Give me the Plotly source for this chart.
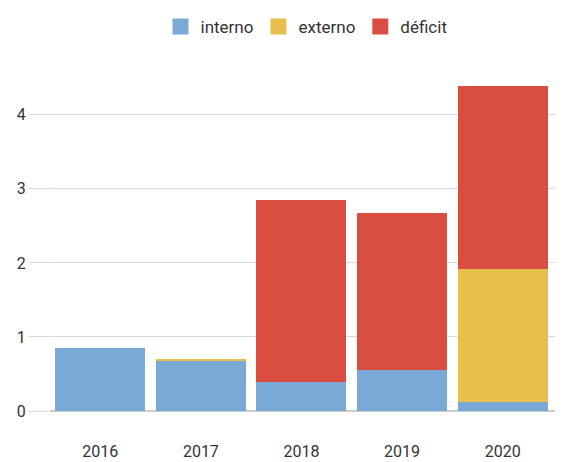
import plotly.graph_objects as go

years = ["2016", "2017", "2018", "2019", "2020"]
interno = [0.85, 0.68, 0.39, 0.56, 0.125]
externo = [0.0, 0.015, 0.0, 0.0, 1.79]
deficit = [0.0, 0.0, 2.46, 2.12, 2.47]

series = [("interno", interno, "#7aa9d5"), ("externo", externo, "#e8bf4c"), ("déficit", deficit, "#d94e40")]

fig = go.Figure()
for name, vals, col in series:
    fig.add_trace(go.Bar(x=years, y=vals, name=name, showlegend=False,
                         marker=dict(color=col, line=dict(width=0))))
for name, vals, col in series:
    fig.add_trace(go.Scatter(x=[None], y=[None], mode="markers", name=name,
                             marker=dict(symbol="square", size=20, color=col)))

font = "Roboto, Arial, sans-serif"
fig.update_layout(
    barmode="stack",
    bargap=0.105,
    width=563, height=462,
    margin=dict(l=42, r=8, t=52, b=59),
    paper_bgcolor="white", plot_bgcolor="white",
    font=dict(family=font, size=16, color="#333333"),
    legend=dict(orientation="h", x=0.5, xanchor="center", y=0.959, yanchor="middle",
                yref="container",
                font=dict(size=17, color="#333333"), traceorder="normal",
                itemsizing="trace", itemwidth=30, tracegroupgap=0),
    xaxis=dict(range=[-0.5, 4.6], showgrid=False, ticks="outside", ticklen=26,
               tickcolor="rgba(0,0,0,0)", tickfont=dict(size=16, color="#333333"),
               showline=False, automargin=False),
    yaxis=dict(range=[0, 4.74], tickvals=[0, 1, 2, 3, 4], showgrid=True, gridcolor="#d9d9d9",
               gridwidth=1, zeroline=True, zerolinecolor="#cccccc", zerolinewidth=1.5,
               ticks="outside", ticklen=20, tickcolor="#d9d9d9", automargin=False,
               tickfont=dict(size=16, color="#333333")),
)
fig.write_html("out.html")
